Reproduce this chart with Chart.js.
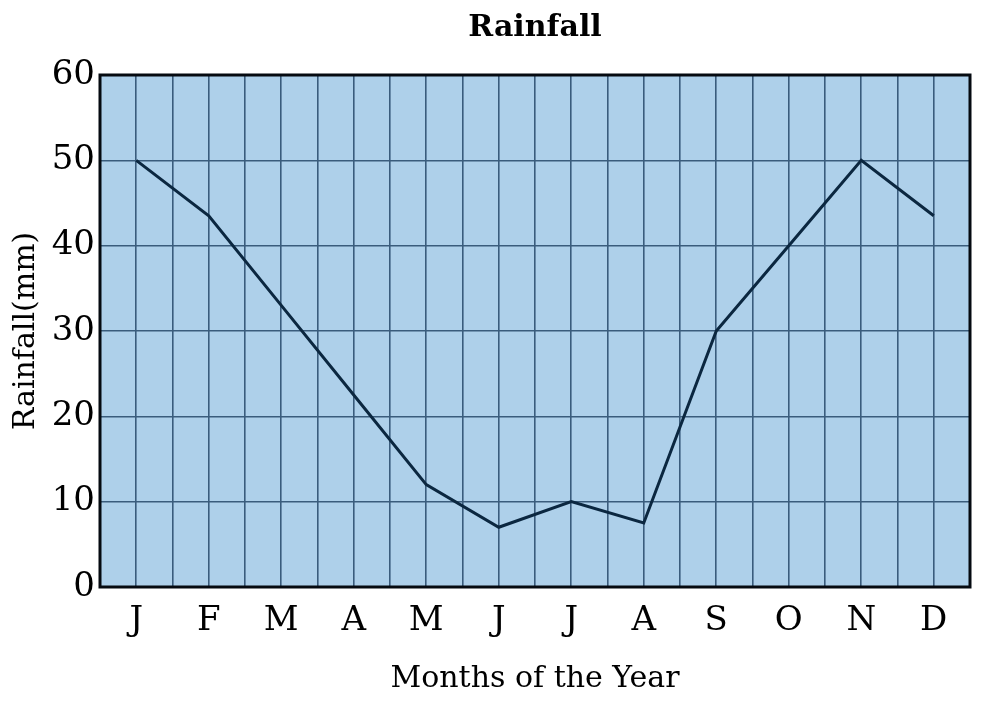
<!DOCTYPE html>
<html lang="en">
<head>
    <meta charset="UTF-8">
    <title>Rainfall</title>
    <script src="https://cdn.jsdelivr.net/npm/chart.js"></script>
    <style>
        html, body { margin: 0; padding: 0; background: #fff; }
        #wrap { width: 1003px; height: 707px; }
    </style>
</head>
<body>
    <div id="wrap"><canvas id="chart"></canvas></div>
    <script>
        // months (category labels) and rainfall values in mm
        const months = ["J", "F", "M", "A", "M", "J", "J", "A", "S", "O", "N", "D"];
        const rainfall = [50, 43.5, 33, 22.5, 12, 7, 10, 7.5, 30, 40, 50, 43.5];
        const yTicks = [0, 10, 20, 30, 40, 50, 60];

        // each month sits in the middle of a two-column cell
        const points = months.map((m, i) => ({ x: i * 2 + 1, y: rainfall[i] }));

        const serif = "'DejaVu Serif', serif";

        // light blue plot background + thick frame
        const frame = {
            id: "frame",
            beforeDraw(chart) {
                const { ctx, chartArea: a } = chart;
                ctx.save();
                ctx.fillStyle = "#aed0ea";
                ctx.fillRect(a.left, a.top, a.right - a.left, a.bottom - a.top);
                ctx.restore();
            },
            afterDatasetsDraw(chart) {
                const { ctx, chartArea: a } = chart;
                ctx.save();
                ctx.strokeStyle = "#050a10";
                ctx.lineWidth = 3;
                ctx.strokeRect(a.left, a.top, a.right - a.left, a.bottom - a.top);
                ctx.restore();
            }
        };

        new Chart(document.getElementById("chart"), {
            type: "line",
            data: {
                datasets: [{
                    label: "Rainfall",
                    data: points,
                    borderColor: "#0b2740",
                    borderWidth: 3,
                    pointRadius: 0,
                    tension: 0
                }]
            },
            options: {
                responsive: true,
                maintainAspectRatio: false,
                animation: false,
                layout: { padding: { left: 0, right: 33, top: 0, bottom: 0 } },
                plugins: {
                    legend: { display: false },
                    tooltip: { enabled: false },
                    title: {
                        display: true,
                        fullSize: false,
                        text: "Rainfall",
                        color: "#000",
                        font: { family: serif, size: 30, weight: "bold" },
                        padding: { top: 10, bottom: 29 }
                    }
                },
                scales: {
                    x: {
                        type: "linear",
                        min: 0,
                        max: 24,
                        afterFit: s => { s.height = 120; },
                        afterBuildTicks: s => {
                            s.ticks = Array.from({ length: 25 }, (_, i) => ({ value: i }));
                        },
                        grid: { color: "#3a5c7c", lineWidth: 1.6, drawTicks: false },
                        border: { display: false },
                        ticks: {
                            autoSkip: false,
                            maxRotation: 0,
                            padding: 14,
                            color: "#000",
                            font: { family: serif, size: 34 },
                            callback: v => (v % 2 === 1 ? months[(v - 1) / 2] : "")
                        },
                        title: {
                            display: true,
                            text: "Months of the Year",
                            color: "#000",
                            font: { family: serif, size: 30 },
                            padding: { top: 0, bottom: 10 }
                        }
                    },
                    y: {
                        min: 0,
                        max: 60,
                        afterFit: s => { s.width = 100; },
                        afterBuildTicks: s => {
                            s.ticks = yTicks.map(v => ({ value: v }));
                        },
                        grid: { color: "#3a5c7c", lineWidth: 1.6, drawTicks: false },
                        border: { display: false },
                        ticks: {
                            padding: 5,
                            color: "#000",
                            font: { family: serif, size: 34 }
                        },
                        title: {
                            display: true,
                            text: "Rainfall(mm)",
                            color: "#000",
                            font: { family: serif, size: 30 },
                            padding: { top: 8, bottom: 0 }
                        }
                    }
                }
            },
            plugins: [frame]
        });
    </script>
</body>
</html>
